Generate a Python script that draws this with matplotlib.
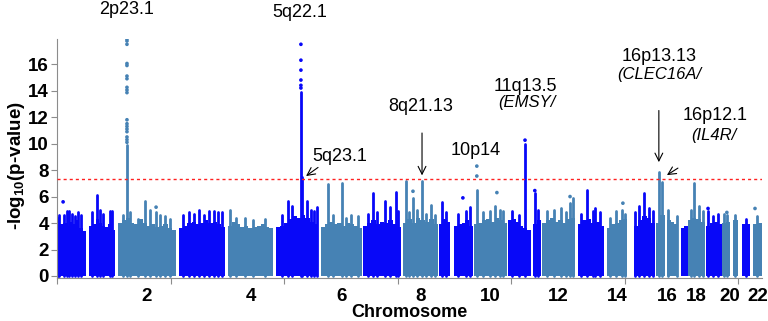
import matplotlib.pyplot as plt
import numpy as np

plt.rcParams['font.family'] = ['Liberation Sans', 'DejaVu Sans']
plt.rcParams['mathtext.fontset'] = 'custom'
plt.rcParams['mathtext.rm'] = 'Liberation Sans:bold'
plt.rcParams['mathtext.default'] = 'rm'

# genome-wide position in Mb; blocks of dense SNPs (chromosome, start, end, top of the dense cloud)
block_chrom = [1, 1, 2, 3, 4, 5, 6, 7, 8, 9, 9, 10, 11, 11, 12, 13, 14, 15, 16, 16, 17, 18, 19, 20, 20, 21, 22]
block_start = [0, 131, 249, 499, 699, 895, 1079, 1251, 1414, 1561, 1623, 1704, 1843, 1945, 1982, 2129,
               2248, 2358, 2448, 2493, 2550, 2579, 2652, 2718, 2763, 2800, 2845]
block_end = [118, 237, 486, 687, 883, 1067, 1247, 1406, 1557, 1606, 1700, 1839, 1937, 1978, 2117, 2236,
             2330, 2444, 2485, 2538, 2579, 2648, 2718, 2751, 2783, 2832, 2881]
block_env = [
    [3.7, 3.9, 4.0, 3.8, 4.1, 3.9, 4.2, 3.6, 3.4],
    [3.8, 3.9, 4.3, 4.0, 3.8, 3.7, 3.9, 3.5],
    [4.0, 4.2, 4.4, 4.0, 3.9, 4.3, 4.0, 3.8, 3.9, 3.7, 3.8, 3.9, 3.6, 3.5],
    [3.6, 3.8, 4.0, 4.1, 3.9, 4.0, 4.2, 4.0, 4.1, 3.9, 3.7],
    [3.8, 4.1, 3.9, 3.7, 3.8, 3.6, 3.7, 3.8, 3.9, 3.7, 3.6],
    [3.7, 3.8, 4.0, 4.3, 4.5, 4.4, 4.6, 4.4, 4.1, 3.9],
    [3.7, 3.9, 4.1, 3.9, 4.0, 3.8, 4.0, 3.9, 3.8, 3.6],
    [3.8, 4.0, 4.2, 3.9, 4.1, 4.0, 4.2, 3.9, 3.7],
    [4.0, 4.3, 4.0, 4.4, 4.2, 4.1, 4.3, 3.9],
    [3.9, 4.3, 4.1],
    [3.8, 3.9, 4.0, 4.2, 3.8],
    [3.9, 4.0, 4.2, 4.3, 4.1, 4.4, 4.2, 4.0],
    [4.2, 4.3, 4.1, 3.8, 3.6, 3.5],
    [3.9, 4.2],
    [4.0, 4.2, 4.4, 4.1, 4.2, 4.0, 4.3, 4.4],
    [3.9, 4.2, 4.3, 4.0, 4.1, 3.8],
    [3.6, 3.9, 4.0, 4.2, 4.3],
    [3.8, 4.2, 4.5, 4.4, 4.0],
    [4.0, 4.6],
    [4.2, 4.1, 3.9],
    [3.6, 3.8],
    [4.2, 4.4, 4.3, 4.1],
    [3.8, 4.0, 4.1, 3.9],
    [4.0, 4.1],
    [4.2],
    [3.9, 3.9],
    [3.9, 4.0],
]

# columns of SNPs rising above the cloud (position, highest -log10 p of the column)
spike_pos = [5, 10, 30, 40, 50, 60, 75, 85, 100, 145, 163, 175, 190, 215, 225,
             270, 286, 300, 330, 360, 380, 405, 420, 440, 460,
             515, 540, 560, 580, 600, 620, 640, 660, 675, 707, 730, 770, 800, 850,
             920, 944, 960, 997, 1003, 1022, 1040, 1050, 1063,
             1108, 1130, 1165, 1180, 1200, 1230, 1270, 1291, 1310, 1340, 1360, 1385, 1395,
             1426, 1440, 1455, 1470, 1492, 1510, 1530, 1545, 1573, 1590, 1640, 1670, 1688,
             1716, 1740, 1770, 1790, 1810, 1825, 1860, 1890, 1913, 1953, 1965,
             2003, 2030, 2060, 2080, 2095, 2110, 2140, 2166, 2190, 2200, 2220,
             2260, 2285, 2310, 2320, 2362, 2380, 2400, 2420, 2435,
             2460, 2473, 2497, 2535, 2590, 2602, 2625, 2640,
             2660, 2680, 2700, 2725, 2740, 2770, 2815, 2860]
spike_top = [4.4, 4.6, 4.6, 4.9, 4.9, 4.7, 4.5, 4.8, 4.6, 4.8, 6.1, 5.0, 4.7, 4.9, 4.9,
             4.6, 9.9, 4.8, 4.3, 5.7, 5.0, 4.8, 4.6, 4.5, 4.3,
             4.6, 4.8, 4.7, 5.0, 4.6, 4.9, 4.9, 4.8, 4.8, 5.0, 4.4, 4.4, 4.2, 4.3,
             4.6, 5.7, 5.3, 13.9, 7.5, 5.7, 5.0, 4.9, 5.2,
             6.95, 4.6, 7.0, 4.4, 4.6, 4.5, 4.7, 6.25, 4.8, 5.7, 5.2, 6.35, 4.9,
             7.2, 4.8, 5.9, 5.0, 7.15, 4.7, 5.4, 4.6, 5.6, 4.8, 4.7, 4.9, 5.2,
             6.5, 4.8, 4.9, 5.3, 5.0, 4.9, 4.9, 4.6, 10.0, 6.3, 5.0,
             4.9, 5.0, 5.1, 4.8, 5.5, 5.9, 4.7, 6.5, 4.9, 5.1, 4.8,
             4.4, 4.9, 5.0, 4.7, 4.8, 5.3, 6.26, 5.1, 4.9,
             7.87, 7.1, 5.0, 4.5, 5.0, 7.0, 5.3, 4.9,
             4.9, 4.5, 4.7, 4.7, 4.6, 4.6, 4.3, 4.5]

# isolated SNPs
dot_pos = [25, 405,
           286, 286, 286, 286, 286, 286, 286, 286, 286, 286, 286, 286, 286, 286, 286, 286, 286, 286,
           997, 997, 997, 997, 997, 997,
           1455, 1659, 1716, 1716, 1798, 1913, 1953, 2097, 2313, 2661, 2738, 2853]
dot_val = [5.6, 5.2,
           17.9, 17.75, 17.5, 16.05, 15.9, 15.1, 14.9, 14.25, 14.05, 13.85, 11.8, 11.5, 11.3, 11.1, 10.9,
           10.5, 10.3, 10.1,
           17.5, 16.3, 15.55, 14.8, 14.4, 14.2,
           6.4, 5.9, 8.3, 7.55, 6.3, 10.26, 6.45, 6.0, 5.5, 5.1, 4.8, 5.1]

even_labels = ['2', '4', '6', '8', '10', '12', '14', '16', '18', '20', '22']
threshold = 7.3

blue = '#0808f8'
steel = '#4682b4'


def chrom_color(c):
    return blue if c % 2 else steel


def color_at(pos):
    i = np.searchsorted(block_start, pos, side='right') - 1
    return chrom_color(block_chrom[max(i, 0)])


fig = plt.figure(figsize=(7.68, 3.21), dpi=100)
ax = fig.add_axes([0.0742, 0.134, 0.9178, 0.7445])

for c, s, e, env in zip(block_chrom, block_start, block_end, block_env):
    edges = np.linspace(s, e, len(env) + 1)
    ax.bar(edges[:-1], env, width=np.diff(edges), align='edge', color=chrom_color(c), linewidth=0)

lc = ax.vlines(spike_pos, 0, spike_top, colors=[color_at(p) for p in spike_pos], linewidth=2.0)
lc.set_capstyle('round')
ax.scatter(dot_pos, dot_val, s=7, c=[color_at(p) for p in dot_pos], linewidths=0, zorder=3)

ax.axhline(threshold, color='#ff2020', linestyle=(0, (2.2, 2.2)), linewidth=1.0, zorder=4)

ax.set_xlim(0, 2881)
ax.set_ylim(-0.15, 17.9)
for side in ['top', 'right']:
    ax.spines[side].set_visible(False)
for side in ['left', 'bottom']:
    ax.spines[side].set_color('#8c8c8c')

ax.set_yticks(range(0, 17, 2))
ax.tick_params(axis='y', length=4, color='#8c8c8c', labelsize=13.5, pad=2)
for lab in ax.get_yticklabels():
    lab.set_fontweight('bold')

ax.set_xticks(np.arange(0, 2881, 464))
ax.set_xticklabels([])
ax.tick_params(axis='x', which='major', length=4, color='#8c8c8c')

centers = []
for k in range(2, 23, 2):
    ss = [s for c, s in zip(block_chrom, block_start) if c == k]
    ee = [e for c, e in zip(block_chrom, block_end) if c == k]
    centers.append((min(ss) + max(ee)) / 2)
ax.set_xticks(centers, minor=True)
ax.set_xticklabels(even_labels, minor=True, fontsize=13.5, fontweight='bold')
ax.tick_params(axis='x', which='minor', length=0, pad=7)

ax.set_xlabel('Chromosome', fontsize=13, fontweight='bold')
ax.xaxis.set_label_coords(0.5, -0.11)
ax.set_ylabel('-log$_{10}$(p-value)', fontsize=13.5, fontweight='bold')
ax.yaxis.set_label_coords(-0.043, 0.47)

fs = 13
arrow = dict(arrowstyle='->', color='black', lw=0.8, shrinkA=0, shrinkB=0,
             mutation_scale=14)
ax.text(286, 20.1, '2p23.1', fontsize=fs, ha='center', va='center', clip_on=False)
ax.text(993, 19.9, '5q22.1', fontsize=fs, ha='center', va='center', clip_on=False)
ax.text(1157, 9.0, '5q23.1', fontsize=fs, ha='center', va='center')
ax.annotate('', xy=(1018, 7.55), xytext=(1067, 8.2), arrowprops=arrow)
ax.text(1488, 12.8, '8q21.13', fontsize=fs, ha='center', va='center')
ax.annotate('', xy=(1492, 7.6), xytext=(1492, 10.8), arrowprops=arrow)
ax.text(1712, 9.45, '10p14', fontsize=fs, ha='center', va='center')
ax.text(1913, 14.3, '11q13.5', fontsize=fs, ha='center', va='center')
ax.text(1802, 13.1, '(EMSY/', fontsize=12, style='italic', ha='left', va='center')
ax.text(2460, 16.6, '16p13.13', fontsize=fs, ha='center', va='center')
ax.text(2460, 15.25, '(CLEC16A/', fontsize=12, style='italic', ha='center', va='center')
ax.annotate('', xy=(2460, 8.6), xytext=(2460, 12.5), arrowprops=arrow)
ax.text(2689, 12.15, '16p12.1', fontsize=fs, ha='center', va='center')
ax.text(2685, 10.64, '(IL4R/', fontsize=12, style='italic', ha='center', va='center')
ax.annotate('', xy=(2493, 7.62), xytext=(2538, 8.15), arrowprops=arrow)

fig.savefig('out.png', dpi=100)
